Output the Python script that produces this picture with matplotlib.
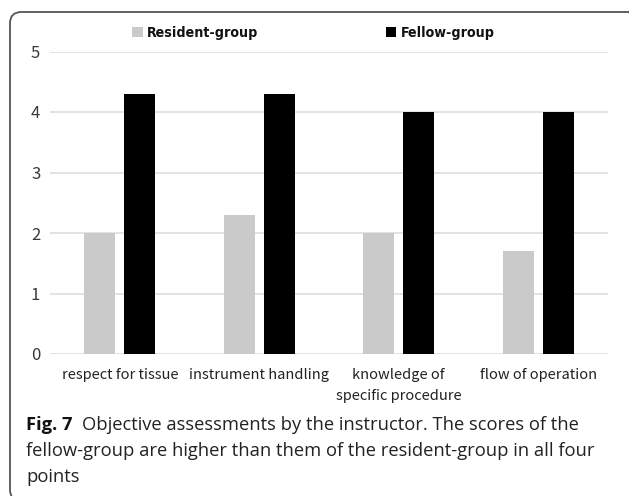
import matplotlib
matplotlib.use("Agg")
import matplotlib.pyplot as plt
from matplotlib.patches import FancyBboxPatch, Patch
import numpy as np

categories = ["respect for tissue", "instrument handling",
              "knowledge of\nspecific procedure", "flow of operation"]
resident = [2.0, 2.3, 2.0, 1.7]
fellow = [4.3, 4.3, 4.0, 4.0]
series_names = ["Resident-group", "Fellow-group"]
yticks = [0, 1, 2, 3, 4, 5]

W, H = 629, 496
fig = plt.figure(figsize=(W / 100, H / 100), dpi=100)
fig.patch.set_facecolor("white")

ax = fig.add_axes([50 / W, 1 - 354 / H, (608 - 50) / W, (354 - 51.5) / H])
x = np.arange(len(categories))
bw = 0.222
off = 0.143
ax.bar(x - off, resident, width=bw, color="#cacaca", zorder=3)
ax.bar(x + off, fellow, width=bw, color="#000000", zorder=3)

ax.set_xlim(-0.5, len(categories) - 0.5)
ax.set_ylim(0, 5)
ax.set_yticks(yticks)
ax.set_yticklabels([str(v) for v in yticks], fontsize=12,
                   family=["Noto Sans CJK JP", "DejaVu Sans"], color="#3a3a3a")
ax.set_xticks(x)
ax.set_xticklabels(categories, fontsize=10.5, family=["Noto Sans CJK JP", "DejaVu Sans"],
                   color="#222222", linespacing=1.65)
ax.tick_params(axis="both", length=0)
ax.tick_params(axis="y", pad=7)
ax.tick_params(axis="x", pad=10)
for s in ax.spines.values():
    s.set_visible(False)
ax.yaxis.grid(True, color="#dedede", linewidth=1.2, zorder=0)
ax.set_axisbelow(True)
ax.set_facecolor("none")

handles = [Patch(facecolor="#cacaca", edgecolor="none"),
           Patch(facecolor="#000000", edgecolor="none")]
leg = fig.legend(handles, series_names, loc="center left",
                 bbox_to_anchor=(132 / W, 1 - 33 / H), ncol=2, frameon=False,
                 prop={"family": ["DejaVu Sans"], "weight": "bold", "size": 10.2,
                       "stretch": "condensed"},
                 handlelength=0.75, handleheight=0.75, handletextpad=0.3,
                 columnspacing=9.0, borderaxespad=0, borderpad=0)
for t in leg.get_texts():
    t.set_color("#111111")

# rounded frame (bottom edge falls just outside the image)
frame = FancyBboxPatch((10 / W, -5 / H), (640 - 10) / W, (H - 12 + 5) / H,
                       boxstyle="round,pad=0,rounding_size=0.018",
                       transform=fig.transFigure, fill=False,
                       edgecolor="#555555", linewidth=1.3, mutation_aspect=W / H)
fig.add_artist(frame)

cap_font = ["Open Sans", "DejaVu Sans"]
cap_size = 13.2
cx = 26
fig.canvas.draw()
r = fig.canvas.get_renderer()
t1 = fig.text(cx / W, 1 - 430 / H, "Fig. 7", fontsize=cap_size, fontweight="bold",
              family=cap_font, va="baseline", ha="left", color="#111111")
bb = t1.get_window_extent(renderer=r)
x2 = (bb.x1 + 10) / W
fig.text(x2, 1 - 430 / H, "Objective assessments by the instructor. The scores of the",
         fontsize=cap_size, family=cap_font, va="baseline", ha="left", color="#222222")
fig.text(cx / W, 1 - 456 / H,
         "fellow-group are higher than them of the resident-group in all four",
         fontsize=cap_size, family=cap_font, va="baseline", ha="left", color="#222222")
fig.text(cx / W, 1 - 482 / H, "points",
         fontsize=cap_size, family=cap_font, va="baseline", ha="left", color="#222222")

fig.savefig("out.png", dpi=100, facecolor="white")
